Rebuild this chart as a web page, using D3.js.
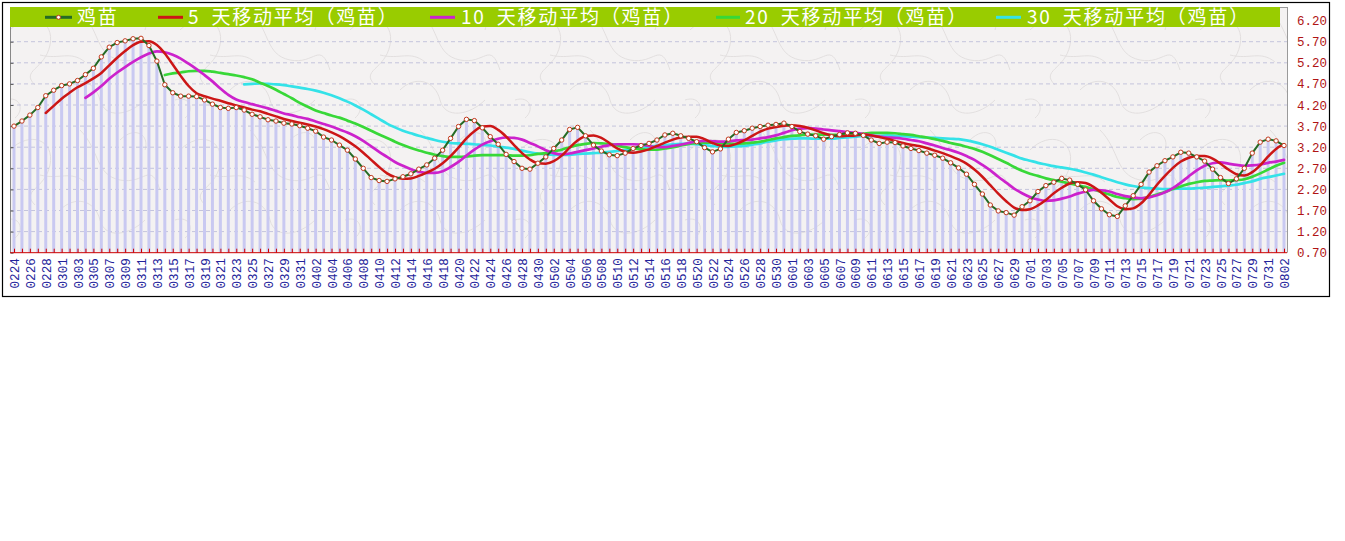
<!DOCTYPE html>
<html><head><meta charset="utf-8">
<script src="https://cdn.jsdelivr.net/npm/d3@7"></script>
<style>
html,body{margin:0;padding:0;background:#fff;}
svg{display:block;}
</style></head>
<body><svg id="c" width="1345" height="541"></svg>
<script>
// ---------------- data ----------------
const days = [
"0224","0225","0226","0227","0228","0229",
"0301","0302","0303","0304","0305","0306","0307","0308","0309","0310","0311","0312","0313","0314","0315","0316","0317","0318","0319","0320","0321","0322","0323","0324","0325","0326","0327","0328","0329","0330","0331",
"0401","0402","0403","0404","0405","0406","0407","0408","0409","0410","0411","0412","0413","0414","0415","0416","0417","0418","0419","0420","0421","0422","0423","0424","0425","0426","0427","0428","0429","0430",
"0501","0502","0503","0504","0505","0506","0507","0508","0509","0510","0511","0512","0513","0514","0515","0516","0517","0518","0519","0520","0521","0522","0523","0524","0525","0526","0527","0528","0529","0530","0531",
"0601","0602","0603","0604","0605","0606","0607","0608","0609","0610","0611","0612","0613","0614","0615","0616","0617","0618","0619","0620","0621","0622","0623","0624","0625","0626","0627","0628","0629","0630",
"0701","0702","0703","0704","0705","0706","0707","0708","0709","0710","0711","0712","0713","0714","0715","0716","0717","0718","0719","0720","0721","0722","0723","0724","0725","0726","0727","0728","0729","0730","0731",
"0801","0802"];

const tickLabels = [
"0224","0226","0228","0301","0303","0305","0307","0309","0311","0313","0315","0317","0319","0321","0323","0325","0327","0329","0331",
"0402","0404","0406","0408","0410","0412","0414","0416","0418","0420","0422","0424","0426","0428","0430",
"0502","0504","0506","0508","0510","0512","0514","0516","0518","0520","0522","0524","0526","0528","0530",
"0601","0603","0605","0607","0609","0611","0613","0615","0617","0619","0621","0623","0625","0627","0629",
"0701","0703","0705","0707","0709","0711","0713","0715","0717","0719","0721","0723","0725","0727","0729","0731",
"0802"];

const yTicks = [0.70,1.20,1.70,2.20,2.70,3.20,3.70,4.20,4.70,5.20,5.70,6.20];

const seriesNames = ["鸡苗","5 天移动平均（鸡苗）","10 天移动平均（鸡苗）","20 天移动平均（鸡苗）","30 天移动平均（鸡苗）"];

// 鸡苗 price, one value per day
const price = [
3.70,3.82,3.96,4.14,4.42,4.55,4.66,4.70,4.78,4.92,
5.07,5.34,5.57,5.68,5.72,5.77,5.78,5.61,5.24,4.68,
4.49,4.41,4.41,4.40,4.32,4.22,4.14,4.12,4.14,4.08,
3.98,3.92,3.85,3.82,3.77,3.75,3.71,3.65,3.58,3.44,
3.37,3.25,3.13,2.92,2.70,2.48,2.41,2.39,2.45,2.50,
2.57,2.68,2.78,2.94,3.13,3.41,3.69,3.86,3.83,3.66,
3.45,3.27,3.03,2.86,2.70,2.68,2.82,2.97,3.17,3.37,
3.62,3.67,3.47,3.25,3.11,3.02,3.00,3.06,3.17,3.24,
3.29,3.37,3.49,3.53,3.47,3.41,3.33,3.19,3.09,3.16,
3.39,3.55,3.59,3.65,3.69,3.72,3.74,3.77,3.69,3.57,
3.51,3.47,3.39,3.45,3.50,3.54,3.53,3.48,3.37,3.29,
3.32,3.31,3.23,3.17,3.12,3.06,3.01,2.94,2.83,2.71,
2.56,2.32,2.09,1.83,1.69,1.65,1.59,1.79,1.93,2.15,
2.29,2.37,2.46,2.42,2.32,2.19,1.93,1.74,1.60,1.56,
1.81,2.05,2.32,2.61,2.76,2.88,2.97,3.08,3.06,2.97,
2.87,2.68,2.48,2.34,2.45,2.70,3.06,3.32,3.39,3.35,
3.24];

// moving-average lines (each ends on the last day)
const ma5 = [
4.01,4.18,4.35,4.49,4.62,4.72,
4.83,4.96,5.14,5.32,5.48,5.62,5.70,5.71,5.62,5.42,
5.16,4.89,4.65,4.48,4.41,4.35,4.30,4.24,4.19,4.14,
4.09,4.05,3.99,3.93,3.87,3.82,3.78,3.74,3.69,3.63,
3.55,3.46,3.35,3.22,3.07,2.90,2.73,2.58,2.49,2.45,
2.46,2.52,2.60,2.69,2.82,2.99,3.19,3.41,3.58,3.69,
3.70,3.61,3.45,3.25,3.06,2.91,2.82,2.81,2.87,3.00,
3.19,3.36,3.46,3.48,3.42,3.30,3.17,3.09,3.07,3.10,
3.15,3.23,3.31,3.38,3.43,3.45,3.45,3.39,3.30,3.24,
3.23,3.28,3.36,3.47,3.57,3.64,3.68,3.71,3.72,3.70,
3.66,3.60,3.53,3.48,3.46,3.47,3.48,3.50,3.48,3.44,
3.40,3.35,3.30,3.26,3.23,3.18,3.12,3.06,2.99,2.91,
2.81,2.67,2.50,2.30,2.10,1.92,1.77,1.71,1.73,1.82,
1.95,2.11,2.24,2.34,2.37,2.35,2.26,2.12,1.96,1.80,
1.73,1.75,1.87,2.07,2.31,2.52,2.71,2.86,2.95,2.99,
2.99,2.93,2.81,2.67,2.56,2.53,2.61,2.77,2.98,3.16,
3.27];

const ma10 = [
4.37,
4.50,4.65,4.82,4.97,5.10,5.22,5.33,5.42,5.47,5.45,
5.39,5.30,5.18,5.05,4.91,4.76,4.59,4.44,4.33,4.27,
4.22,4.17,4.12,4.06,4.00,3.96,3.91,3.87,3.81,3.75,
3.69,3.62,3.55,3.46,3.35,3.22,3.09,2.97,2.85,2.76,
2.68,2.62,2.59,2.59,2.63,2.73,2.85,3.00,3.14,3.26,
3.34,3.40,3.43,3.42,3.38,3.30,3.22,3.13,3.06,3.03,
3.05,3.09,3.13,3.17,3.21,3.25,3.27,3.27,3.27,3.26,
3.23,3.20,3.20,3.23,3.26,3.30,3.34,3.35,3.34,3.33,
3.34,3.36,3.37,3.38,3.41,3.44,3.48,3.54,3.60,3.64,
3.65,3.64,3.62,3.60,3.58,3.56,3.54,3.51,3.48,3.45,
3.43,3.42,3.40,3.37,3.34,3.29,3.24,3.18,3.13,3.07,
2.99,2.90,2.78,2.65,2.50,2.36,2.22,2.11,2.02,1.96,
1.93,1.94,1.98,2.03,2.10,2.15,2.19,2.18,2.15,2.09,
2.04,2.01,1.99,2.01,2.06,2.13,2.23,2.36,2.51,2.65,
2.76,2.82,2.84,2.81,2.78,2.76,2.77,2.79,2.83,2.86,
2.90];

const ma20 = [
4.91,
4.95,4.97,5.00,5.01,5.01,4.99,4.96,4.93,4.90,4.86,
4.81,4.73,4.65,4.56,4.46,4.36,4.25,4.16,4.07,4.01,
3.95,3.90,3.83,3.76,3.68,3.59,3.50,3.42,3.33,3.25,
3.18,3.12,3.07,3.02,2.99,2.97,2.97,2.98,3.00,3.01,
3.01,3.01,3.01,3.00,3.00,3.01,3.04,3.06,3.10,3.14,
3.20,3.25,3.28,3.30,3.29,3.28,3.24,3.20,3.17,3.15,
3.14,3.14,3.17,3.20,3.24,3.28,3.30,3.31,3.31,3.30,
3.29,3.28,3.29,3.31,3.33,3.37,3.41,3.44,3.47,3.48,
3.50,3.50,3.50,3.49,3.49,3.50,3.51,3.52,3.54,3.54,
3.54,3.53,3.51,3.49,3.46,3.43,3.39,3.35,3.30,3.26,
3.21,3.16,3.09,3.01,2.92,2.83,2.73,2.64,2.57,2.52,
2.46,2.42,2.38,2.34,2.30,2.26,2.20,2.14,2.08,2.02,
1.99,1.97,1.98,2.02,2.08,2.14,2.21,2.27,2.33,2.37,
2.40,2.41,2.42,2.41,2.42,2.44,2.50,2.58,2.67,2.76,
2.83];

const ma30 = [
4.69,
4.70,4.71,4.70,4.69,4.67,4.64,4.61,4.58,4.54,4.49,
4.43,4.36,4.28,4.19,4.09,3.98,3.87,3.76,3.67,3.59,
3.53,3.47,3.42,3.37,3.33,3.30,3.29,3.28,3.27,3.25,
3.24,3.21,3.19,3.16,3.12,3.08,3.05,3.03,3.02,3.02,
3.02,3.04,3.05,3.06,3.07,3.09,3.11,3.13,3.16,3.18,
3.21,3.23,3.25,3.27,3.28,3.28,3.27,3.25,3.23,3.21,
3.21,3.22,3.23,3.26,3.29,3.33,3.36,3.39,3.40,3.41,
3.41,3.40,3.40,3.40,3.42,3.43,3.45,3.47,3.47,3.47,
3.48,3.47,3.46,3.45,3.44,3.43,3.42,3.41,3.40,3.39,
3.36,3.32,3.27,3.21,3.14,3.07,3.00,2.93,2.88,2.83,
2.79,2.75,2.72,2.69,2.65,2.60,2.55,2.49,2.43,2.37,
2.32,2.28,2.25,2.23,2.22,2.21,2.21,2.22,2.22,2.23,
2.24,2.26,2.27,2.29,2.31,2.35,2.39,2.45,2.49,2.53,
2.57];

// ---------------- drawing ----------------
const svg = d3.select("#c");
const plot = {left:10, right:1287, top:7, bottom:252.7};
const colors = {main:"#256b25", ma5:"#cc1616", ma10:"#cc22cc", ma20:"#38d838", ma30:"#34e2e8"};

const x = d3.scalePoint().domain(days).range([14, 1284]);
const y = d3.scaleLinear().domain([0.70, 6.20]).range([252.7, 20.6]);

// paper texture pattern
const defs = svg.append("defs");
const pat = defs.append("pattern").attr("id","paper").attr("patternUnits","userSpaceOnUse")
  .attr("width",170).attr("height",120);
pat.append("rect").attr("width",170).attr("height",120).attr("fill","#f4f2f2");
const curves = [
  "M10,30 C30,10 55,20 50,45 S20,70 35,85",
  "M80,10 C100,30 95,55 120,60 S150,40 160,70",
  "M60,90 C75,75 95,80 100,100 S130,115 145,100",
  "M5,100 C20,95 25,110 15,118",
  "M120,20 C135,5 150,15 145,30",
  "M40,55 C60,60 70,50 85,62"
];
curves.forEach(p => pat.append("path").attr("d",p).attr("fill","none")
  .attr("stroke","#e0dddd").attr("stroke-width",0.9));

// outer frame
svg.append("rect").attr("x",2.5).attr("y",2.5).attr("width",1327).attr("height",294)
  .attr("fill","#fff").attr("stroke","#000").attr("stroke-width",1.2);

// plot background
svg.append("rect").attr("x",plot.left).attr("y",plot.top)
  .attr("width",plot.right-plot.left).attr("height",plot.bottom-plot.top)
  .attr("fill","url(#paper)");

// gridlines
svg.append("g").selectAll("line").data(yTicks.filter(v => v > 0.71 && v < 6.0)).join("line")
  .attr("x1",plot.left).attr("x2",plot.right)
  .attr("y1",d=>y(d)).attr("y2",d=>y(d))
  .attr("stroke","#c4c4dc").attr("stroke-width",1).attr("stroke-dasharray","4,3");

// bars
svg.append("g").selectAll("rect").data(price).join("rect")
  .attr("x",(d,i)=>x(days[i])-1.5).attr("width",3)
  .attr("y",d=>y(d)).attr("height",d=>y(0.70)-y(d))
  .attr("fill","#c9c9f1");

// frame lines
svg.append("line").attr("x1",plot.left).attr("x2",plot.right).attr("y1",plot.top+0.5).attr("y2",plot.top+0.5)
  .attr("stroke","#9a9a9a");
svg.append("line").attr("x1",plot.right+0.5).attr("x2",plot.right+0.5).attr("y1",plot.top).attr("y2",plot.bottom)
  .attr("stroke","#9a9a9a");
// left axis with small ticks
const leftAxis = d3.axisRight(y).tickValues(yTicks.filter(v=>v<6.0)).tickSize(3).tickFormat("");
svg.append("g").attr("transform",`translate(${plot.left+0.5},0)`).call(leftAxis)
  .call(g=>g.select(".domain").attr("stroke","#888").attr("d",`M0,${plot.top}V${plot.bottom}`))
  .call(g=>g.selectAll(".tick line").attr("stroke","#555"));

// moving-average lines
function maLine(arr, color, w){
  const off = days.length - arr.length;
  const line = d3.line().x((d,i)=>x(days[off+i])).y(d=>y(d)).curve(d3.curveMonotoneX);
  svg.append("path").datum(arr).attr("d",line).attr("fill","none")
    .attr("stroke",color).attr("stroke-width",w).attr("stroke-linejoin","round").attr("stroke-linecap","round");
}
maLine(ma30, colors.ma30, 2.7);
maLine(ma20, colors.ma20, 2.7);
maLine(ma10, colors.ma10, 2.7);
maLine(ma5, colors.ma5, 2.5);

// main series
const mainLine = d3.line().x((d,i)=>x(days[i])).y(d=>y(d));
svg.append("path").datum(price).attr("d",mainLine).attr("fill","none")
  .attr("stroke",colors.main).attr("stroke-width",2).attr("stroke-linejoin","round");
svg.append("g").selectAll("circle").data(price).join("circle")
  .attr("cx",(d,i)=>x(days[i])).attr("cy",d=>y(d)).attr("r",2.2)
  .attr("fill","#fff").attr("stroke","#c2381c").attr("stroke-width",1);

// bottom red baseline with day ticks
const bottomTicks = d3.axisBottom(x).tickValues(days).tickSize(-4).tickFormat("");
svg.append("g").attr("transform",`translate(0,${plot.bottom})`).call(bottomTicks)
  .call(g=>g.select(".domain").attr("stroke","#cc0000").attr("d",`M${plot.left},0H${plot.right}`))
  .call(g=>g.selectAll(".tick line").attr("stroke","#cc0000"));

// x labels (rotated)
const xLabels = d3.axisBottom(x).tickValues(tickLabels).tickSize(0);
svg.append("g").attr("transform",`translate(0,${plot.bottom})`).call(xLabels)
  .call(g=>g.select(".domain").remove())
  .selectAll("text")
  .attr("transform","rotate(-90)").attr("text-anchor","end")
  .attr("x",-5.5).attr("y",0).attr("dy","0.36em")
  .attr("fill","#23239a").style("font-family","'Liberation Mono', monospace")
  .style("font-size","12.6px");

// right axis labels
const rightAxis = d3.axisRight(y).tickValues(yTicks).tickSize(0).tickPadding(10)
  .tickFormat(d3.format(".2f"));
svg.append("g").attr("transform",`translate(${plot.right},0)`).call(rightAxis)
  .call(g=>g.select(".domain").remove())
  .selectAll("text").attr("fill","#b01414")
  .style("font-family","'Liberation Mono', monospace").style("font-size","12.5px");

// legend bar
svg.append("rect").attr("x",plot.left).attr("y",plot.top).attr("width",1270).attr("height",20)
  .attr("fill","#99cc00");
const legendItems = [
  {name:seriesNames[0], color:colors.main, x1:45, x2:72, tx:77, marker:true},
  {name:seriesNames[1], color:colors.ma5, x1:158, x2:183, tx:188},
  {name:seriesNames[2], color:colors.ma10, x1:430, x2:455, tx:461},
  {name:seriesNames[3], color:colors.ma20, x1:716, x2:740, tx:745},
  {name:seriesNames[4], color:colors.ma30, x1:996, x2:1021, tx:1027}
];
const lg = svg.append("g");
legendItems.forEach(it=>{
  lg.append("line").attr("x1",it.x1).attr("x2",it.x2).attr("y1",17.3).attr("y2",17.3)
    .attr("stroke",it.color).attr("stroke-width",3);
  if(it.marker){
    lg.append("circle").attr("cx",(it.x1+it.x2)/2).attr("cy",17.3).attr("r",2)
      .attr("fill","#fff").attr("stroke","#c2381c").attr("stroke-width",1);
  }
  lg.append("text").attr("x",it.tx).attr("y",17.5).attr("dy","0.36em")
    .attr("fill","#fff").style("font-family","'Noto Sans CJK SC', sans-serif")
    .style("font-size","19px").style("letter-spacing","1.8px").style("word-spacing","5px")
    .text(it.name);
});
</script>
</body></html>
